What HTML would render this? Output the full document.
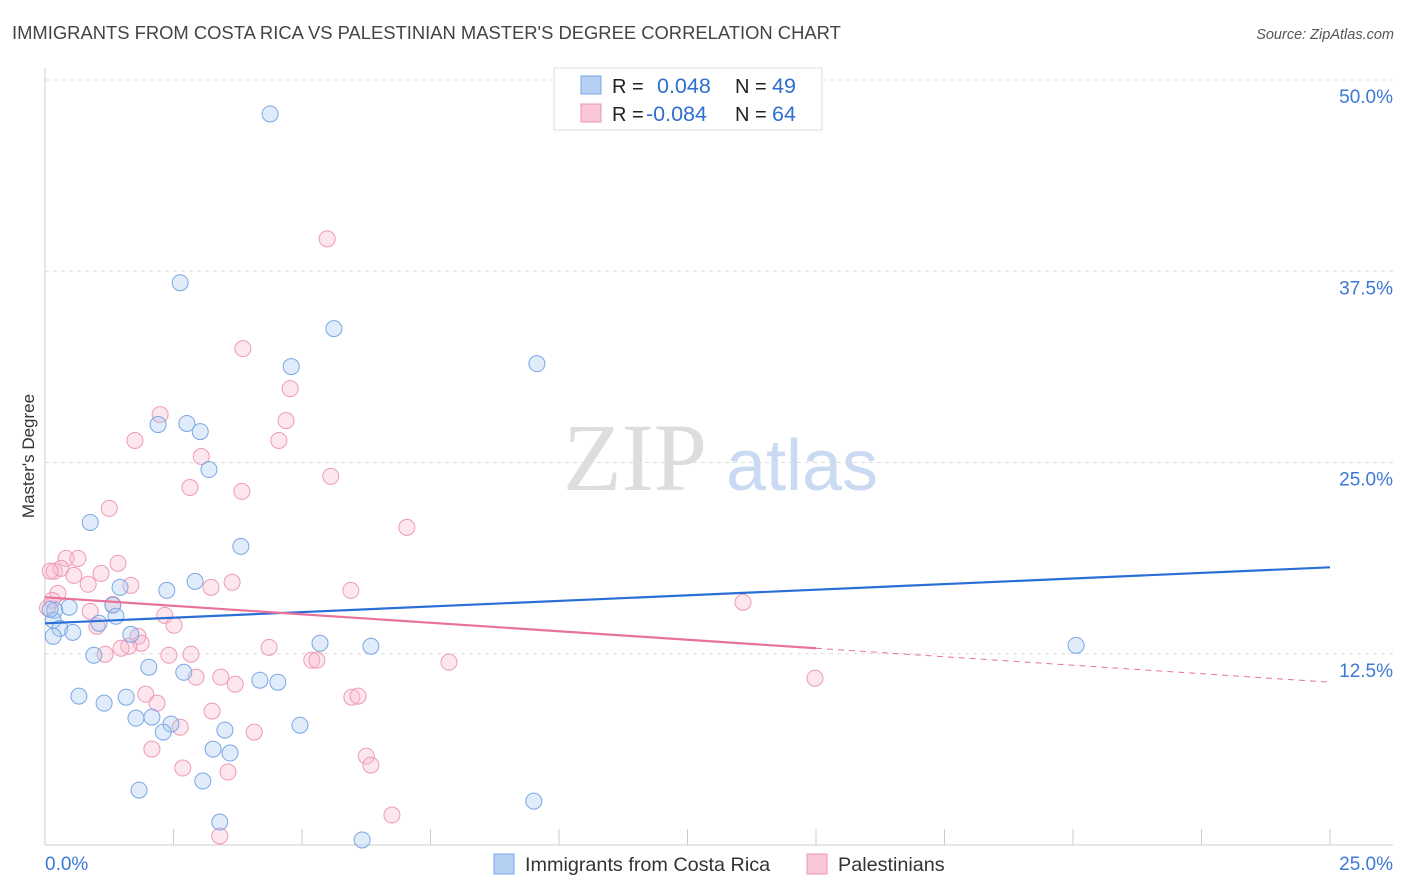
<!DOCTYPE html>
<html><head><meta charset="utf-8"><style>
body{margin:0;width:1406px;height:892px;background:#fff;font-family:"Liberation Sans",sans-serif;overflow:hidden}
svg{position:absolute;left:0;top:0}
</style></head><body>
<svg id="chart" width="1406" height="892">
<text x="12" y="39" font-size="18.4" fill="#444">IMMIGRANTS FROM COSTA RICA VS PALESTINIAN MASTER'S DEGREE CORRELATION CHART</text>
<text x="1394" y="39" font-size="14.5" fill="#555" font-style="italic" text-anchor="end">Source: ZipAtlas.com</text>
<text x="635" y="490" font-size="96" fill="#ddd" font-family="Liberation Serif,serif" text-anchor="middle">ZIP</text>
<text x="802" y="490" font-size="72" fill="#c9daf2" text-anchor="middle">atlas</text>
<text x="34" y="456" font-size="17" fill="#333" text-anchor="middle" transform="rotate(-90 34 456)">Master's Degree</text>
<g id="grid"></g><g id="marks"></g>
<g>
<rect x="554" y="68" width="268" height="62" fill="#fff" stroke="#ddd"/>
<rect x="581" y="76" width="20" height="18" fill="#b6d0f3" stroke="#7aa6e6"/>
<rect x="581" y="104" width="20" height="18" fill="#f9c7d6" stroke="#ec97b2"/>
<text x="612" y="93" font-size="20" fill="#222">R = </text><text x="657" y="93" font-size="21.5" fill="#2f6fd0">0.048</text>
<text x="735" y="93" font-size="20" fill="#222">N = </text><text x="772" y="93" font-size="21.5" fill="#2f6fd0">49</text>
<text x="612" y="121" font-size="20" fill="#222">R = </text><text x="646" y="121" font-size="21.5" fill="#2f6fd0">-0.084</text>
<text x="735" y="121" font-size="20" fill="#222">N = </text><text x="772" y="121" font-size="21.5" fill="#2f6fd0">64</text>
</g>
<g>
<rect x="494" y="854" width="20" height="20" fill="#b6d0f3" stroke="#7aa6e6"/>
<text x="525" y="871" font-size="19.8" fill="#333">Immigrants from Costa Rica</text>
<rect x="807" y="854" width="20" height="20" fill="#f9c7d6" stroke="#ec97b2"/>
<text x="838" y="871" font-size="19.8" fill="#333">Palestinians</text>
</g>
</svg>
<script>
const yTicks=[12.5,25,37.5,50];
const yTickLabels=["12.5%","25.0%","37.5%","50.0%"];
const xTickLabels=["0.0%","25.0%"];
const blueX=[4.38,2.63,5.62,4.79,9.57,2.20,2.76,3.02,3.19,0.88,3.81,2.92,2.37,1.46,1.32,1.38,0.47,0.19,0.16,0.29,0.54,0.16,1.05,1.67,0.95,2.02,2.70,5.35,6.34,4.18,4.53,0.66,1.58,1.15,1.77,2.08,2.45,2.30,3.50,4.96,3.27,3.60,3.07,1.83,3.40,6.17,9.51,20.06,0.10];
const blueY=[47.78,36.75,33.75,31.27,31.46,27.48,27.55,27.02,24.54,21.08,19.52,17.23,16.64,16.84,15.67,14.95,15.54,15.34,14.69,14.16,13.90,13.64,14.49,13.77,12.40,11.62,11.29,13.19,12.99,10.77,10.64,9.73,9.66,9.27,8.29,8.36,7.90,7.38,7.51,7.83,6.27,6.01,4.18,3.59,1.50,0.33,2.87,13.05,15.4];
const pinkX=[5.49,3.85,4.77,4.69,2.24,1.75,4.55,3.04,2.82,3.83,5.56,1.25,7.04,0.41,0.64,1.42,0.18,0.31,0.56,1.09,0.84,1.67,3.64,3.23,5.95,0.25,0.14,1.32,0.88,2.33,2.51,1.01,1.81,1.87,1.63,1.48,1.17,2.41,2.84,4.36,5.19,5.29,7.86,2.94,3.42,3.70,1.96,2.18,5.97,6.09,3.25,2.63,4.07,2.08,2.68,6.25,6.34,3.56,6.75,3.40,13.58,14.98,0.10,0.05];
const pinkY=[39.62,32.44,29.83,27.74,28.13,26.44,26.44,25.39,23.37,23.11,24.09,22.00,20.76,18.73,18.73,18.41,17.89,18.08,17.62,17.75,17.04,16.97,17.17,16.84,16.64,16.45,15.99,15.73,15.27,15.01,14.36,14.30,13.64,13.19,12.99,12.86,12.47,12.40,12.47,12.92,12.08,12.08,11.95,10.97,10.97,10.51,9.86,9.27,9.66,9.73,8.75,7.70,7.38,6.27,5.03,5.81,5.22,4.77,1.96,0.59,15.86,10.90,17.9,15.5];
const blueTrend=[14.49,18.15];
const pinkTrend=[16.19,10.64];
const pinkSolidEnd=15;
const X0=45,X1=1330,Y0=845,Y50=80;
const sx=v=>X0+v/25*(X1-X0);
const sy=v=>Y0-v/50*(Y0-Y50);
const NS="http://www.w3.org/2000/svg";
const grid=document.getElementById('grid'),marks=document.getElementById('marks');
function mk(tag,at,parent){const e=document.createElementNS(NS,tag);for(const k in at)e.setAttribute(k,at[k]);parent.appendChild(e);return e;}
yTicks.forEach((t,i)=>{
 const l=mk('line',{x1:X0,x2:1393,y1:sy(t),y2:sy(t),stroke:'#ddd','stroke-dasharray':'4,4'},grid);
 
 
 const tx=mk('text',{x:1393,y:sy(t)+23,'font-size':19,fill:'#3d78d6','text-anchor':'end'},grid);
 tx.textContent=yTickLabels[i];
 
 
});
const ax=mk('line',{x1:X0,x2:1393,y1:Y0,y2:Y0,stroke:'#ccc'},grid);


const ay=mk('line',{x1:X0,x2:X0,y1:68,y2:Y0,stroke:'#ccc'},grid);


for(let i=1;i<=10;i++){const t=mk('line',{x1:sx(i*2.5),x2:sx(i*2.5),y1:Y0,y2:Y0-16,stroke:'#ccc'},grid);
 
 }
[[0,'start',45],[25,'end',1393]].forEach((a,i)=>{const t=mk('text',{x:a[2],y:870,'font-size':19,fill:'#3d78d6','text-anchor':a[1]},grid);t.textContent=xTickLabels[i];
 
 });
pinkX.forEach((v,i)=>{const c=mk('circle',{cx:sx(v),cy:sy(pinkY[i]),r:8,fill:'rgba(248,187,206,0.35)',stroke:'#ee9ab5','stroke-width':1},marks);
 
 });
blueX.forEach((v,i)=>{const c=mk('circle',{cx:sx(v),cy:sy(blueY[i]),r:8,fill:'rgba(170,200,240,0.35)',stroke:'#7aa6e6','stroke-width':1},marks);
 
 });
const bl=mk('line',{x1:sx(0),y1:sy(blueTrend[0]),x2:sx(25),y2:sy(blueTrend[1]),stroke:'#2a6fd6','stroke-width':2.2},marks);


const pm=pinkTrend[0]+(pinkTrend[1]-pinkTrend[0])*pinkSolidEnd/25;
const pl=mk('line',{x1:sx(0),y1:sy(pinkTrend[0]),x2:sx(pinkSolidEnd),y2:sy(pm),stroke:'#e8729a','stroke-width':2.2},marks);


const pd=mk('line',{x1:sx(pinkSolidEnd),y1:sy(pm),x2:sx(25),y2:sy(pinkTrend[1]),stroke:'#e8729a','stroke-width':1,'stroke-dasharray':'6,5'},marks);


</script>
</body></html>
